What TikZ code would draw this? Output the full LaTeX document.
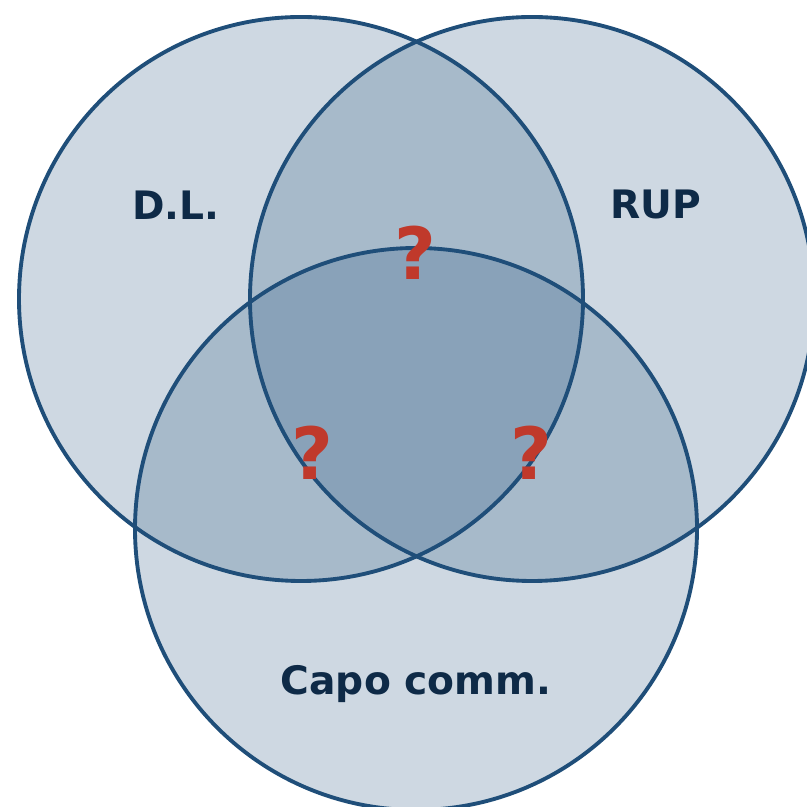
\documentclass[tikz,border=0pt]{standalone}
\usepackage{fontspec}
\setmainfont{DejaVu Sans}
\usepackage{tikz}
\definecolor{setblue}{HTML}{1F4E79}
\definecolor{labelnavy}{HTML}{0E2A47}
\definecolor{askred}{HTML}{C0392B}
\tikzset{
	setfill/.style={fill=setblue, fill opacity=0.22},
	setline/.style={line width=2.2pt, color=setblue},
	setlabel/.style={font=\bfseries\fontsize{22.3}{26}\selectfont, color=labelnavy},
	asklabel/.style={font=\bfseries\fontsize{41}{46}\selectfont, color=askred}
}

\begin{document}
\begin{tikzpicture}
			%%%%% START %%%%%
			
			\useasboundingbox (0, 0) rectangle (16.14, 16.14);
			\clip (0, 0) rectangle (16.14, 16.14);
			
			\fill[setfill] (6.02, 10.16) circle (5.64);
			\fill[setfill] (10.64, 10.16) circle (5.64);
			\fill[setfill] (8.32, 5.56) circle (5.62);
			
			\draw[setline] (6.02, 10.16) circle (5.64);
			\draw[setline] (10.64, 10.16) circle (5.64);
			\draw[setline] (8.32, 5.56) circle (5.62);
			
			\node[setlabel] (dl) at (3.52, 12.04) {D.L.};
			\node[setlabel] (rup) at (13.12, 12.04) {RUP};
			\node[setlabel] (capo) at (8.32, 2.45) {Capo comm.};
			
			\node[asklabel] (dlrup) at (8.30, 11.08) {?};
			\node[asklabel] (dlcapo) at (6.24, 7.08) {?};
			\node[asklabel] (rupcapo) at (10.62, 7.08) {?};
			
			%%%%% END %%%%%
		\end{tikzpicture}
\end{document}
